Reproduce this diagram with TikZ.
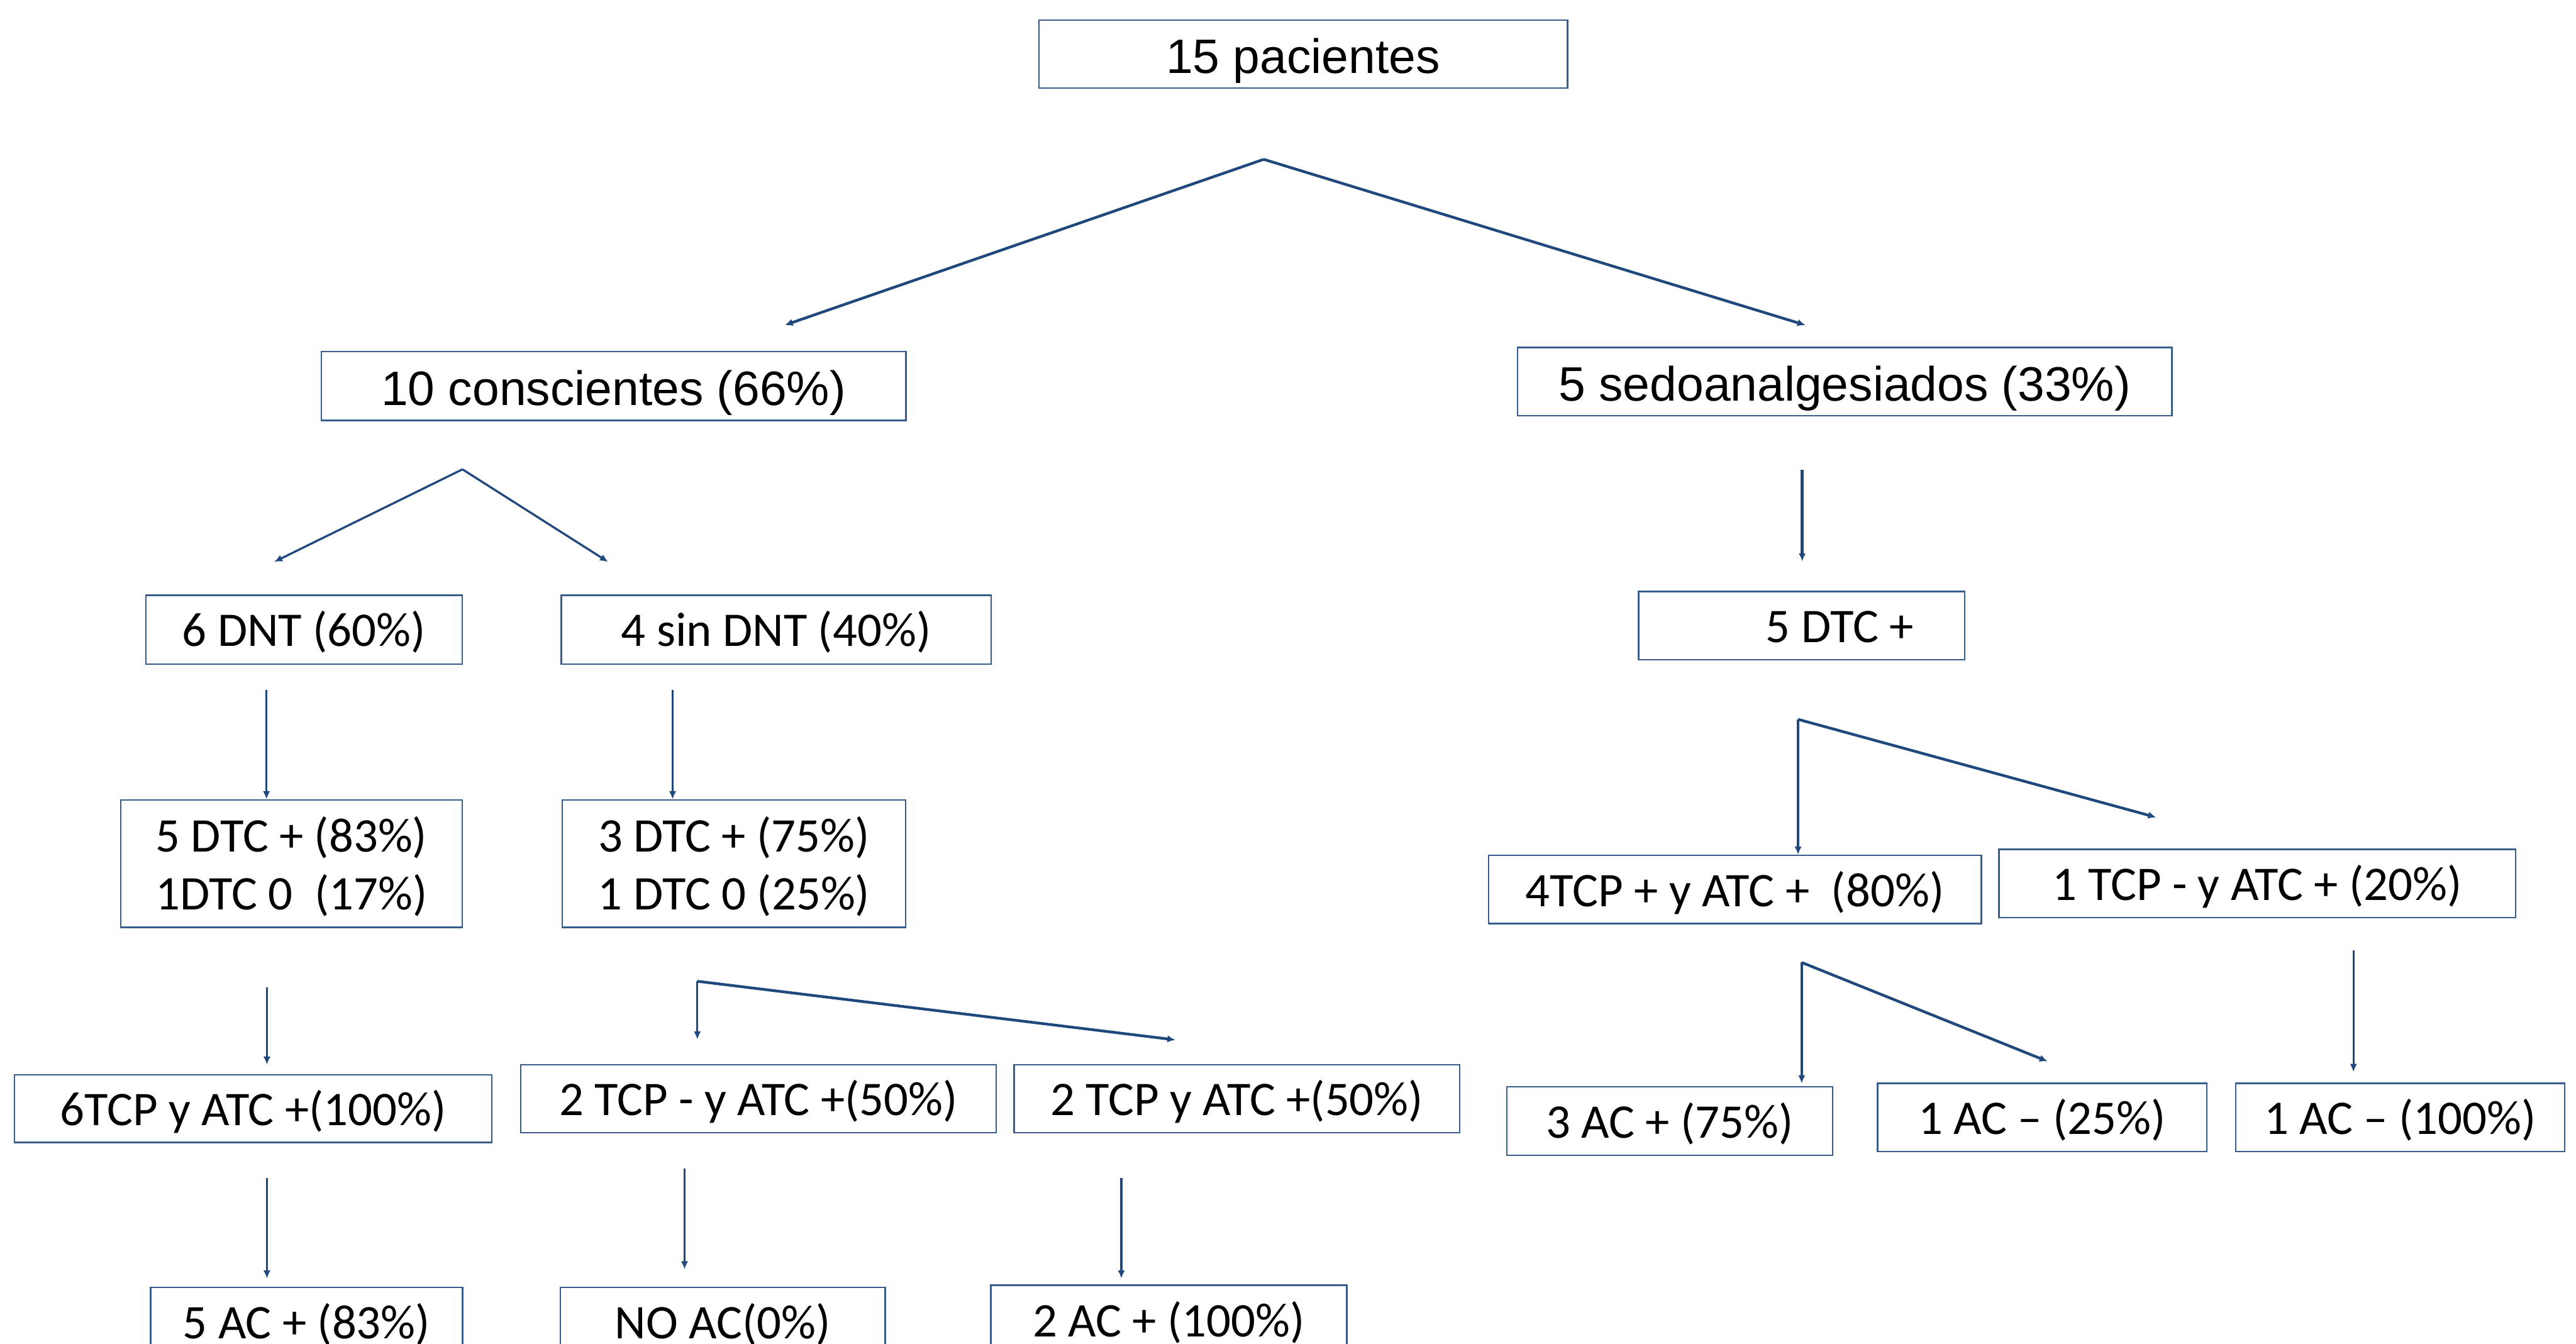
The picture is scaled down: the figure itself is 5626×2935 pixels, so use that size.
\documentclass[tikz,border=0pt]{standalone}
\usepackage{fontspec}
\setmainfont{Carlito}
\newfontfamily\arialfont{Liberation Sans}
\usetikzlibrary{arrows.meta}
\definecolor{boxblue}{RGB}{56,93,138}
\definecolor{arrowblue}{RGB}{31,73,125}
\begin{document}
\begin{tikzpicture}[x=0.01cm,y=-0.01cm,
  box/.style={draw=boxblue,line width=0.9pt,fill=white,inner sep=0pt,text depth=0pt},
  cal/.style={box,font=\fontsize{30}{36}\selectfont,text height=21pt},
  ari/.style={box,font=\arialfont\fontsize{30}{36}\selectfont,text height=23.9pt},
  arr/.style={draw=arrowblue,line width=1.3pt,-{Latex[length=5pt,width=4.5pt]}},
  arrthick/.style={arr,line width=1.7pt}
]
\useasboundingbox (0,0) rectangle (5626,2935);
\clip (0,0) rectangle (5626,2935);
\fill[white] (0,0) rectangle (5626,2935);

% boxes
\node[ari,minimum width=11.54cm,minimum height=1.48cm] (pac) at (2846,118) {15 pacientes};
\node[ari,minimum width=12.76cm,minimum height=1.50cm] (cons) at (1340,843) {10 conscientes (66\%)};
\node[ari,minimum width=14.28cm,minimum height=1.49cm] (sedo) at (4029,833.5) {5 sedoanalgesiados (33\%)};
\node[cal,minimum width=6.90cm,minimum height=1.50cm] (dnt) at (664,1375) {6 DNT (60\%)};
\node[cal,minimum width=9.38cm,minimum height=1.50cm] (sindnt) at (1695,1375) {4 sin DNT (40\%)};
\node[cal,minimum width=7.12cm,minimum height=1.49cm] (dtcc) at (3935,1366.5) {\hspace*{1.66cm}5 DTC +};
\node[cal,text height=57.5pt,minimum width=7.45cm,minimum height=2.78cm] (dtca) at (636.5,1886)
  {\begin{tabular}[b]{@{}c@{}}5 DTC + (83\%)\\1DTC 0\ \ (17\%)\end{tabular}};
\node[cal,text height=57.5pt,minimum width=7.50cm,minimum height=2.78cm] (dtcb) at (1603,1886)
  {\begin{tabular}[b]{@{}c@{}}3 DTC + (75\%)\\1 DTC 0 (25\%)\end{tabular}};
\node[cal,minimum width=10.42cm,minimum height=1.48cm] (tcpsix) at (553,2421) {6TCP y ATC +(100\%)};
\node[cal,minimum width=10.37cm,minimum height=1.49cm] (tcptwom) at (1656.5,2399.5) {2 TCP - y ATC +(50\%)};
\node[cal,minimum width=9.73cm,minimum height=1.49cm] (tcptwo) at (2701.5,2399.5) {2 TCP y ATC +(50\%)};
\node[cal,minimum width=10.76cm,minimum height=1.49cm] (tcpfour) at (3789,1942.5) {4TCP + y ATC +\ \ (80\%)};
\node[cal,minimum width=11.28cm,minimum height=1.49cm] (tcpone) at (4930,1929.5) {1 TCP - y ATC + (20\%)};
\node[cal,minimum width=7.11cm,minimum height=1.50cm] (acthree) at (3646.5,2448) {3 AC + (75\%)};
\node[cal,minimum width=7.18cm,minimum height=1.49cm] (aconea) at (4460,2440.5) {1 AC – (25\%)};
\node[cal,minimum width=7.18cm,minimum height=1.49cm] (aconeb) at (5242,2440.5) {1 AC – (100\%)};
\node[cal,minimum width=6.81cm,minimum height=1.50cm] (acfive) at (669.5,2887) {5 AC + (83\%)};
\node[cal,minimum width=7.09cm,minimum height=1.50cm] (acno) at (1578.5,2887) {NO AC(0\%)};
\node[cal,minimum width=7.77cm,minimum height=1.50cm] (actwo) at (2552.5,2882) {2 AC + (100\%)};

% connector points
\coordinate (ta) at (2760,348);
\coordinate (tl) at (1714,710);
\coordinate (tr) at (3943,710);
\coordinate (ca) at (1010,1025);
\coordinate (cl) at (599,1227);
\coordinate (cr) at (1328,1227);
\coordinate (dnts) at (582,1507);
\coordinate (sindnts) at (1469,1507);
\coordinate (sedos) at (3936,1026);
\coordinate (sedoe) at (3936,1226);
\coordinate (dtcas) at (583,2156);
\coordinate (dtcae) at (583,2325);
\coordinate (ba) at (1523,2143);
\coordinate (bd) at (1523,2270);
\coordinate (br) at (2567,2271);
\coordinate (da) at (3927,1571);
\coordinate (dr) at (4709,1785);
\coordinate (sixs) at (583,2572);
\coordinate (sixe) at (583,2792);
\coordinate (twoms) at (1495,2552);
\coordinate (twome) at (1495,2772);
\coordinate (twos) at (2449,2572);
\coordinate (twoe) at (2449,2792);
\coordinate (fa) at (3935,2102);
\coordinate (fd) at (3935,2366);
\coordinate (fr) at (4472,2318);
\coordinate (ones) at (5140,2075);
\coordinate (onee) at (5140,2341);

% connectors
\draw[arrthick] (ta) -- (tl);
\draw[arrthick] (ta) -- (tr);
\draw[arr] (ca) -- (cl);
\draw[arr] (ca) -- (cr);
\draw[arr] (dnts) -- (dnts |- dtca.north);
\draw[arr] (sindnts) -- (sindnts |- dtcb.north);
\draw[arrthick] (sedos) -- (sedoe);
\draw[arr] (dtcas) -- (dtcae);
\draw[arr] (ba) -- (bd);
\draw[arrthick] (ba) -- (br);
\draw[arr] (da) -- (da |- tcpfour.north);
\draw[arrthick] (da) -- (dr);
\draw[arr] (sixs) -- (sixe);
\draw[arr] (twoms) -- (twome);
\draw[arr] (twos) -- (twoe);
\draw[arr] (fa) -- (fd);
\draw[arrthick] (fa) -- (fr);
\draw[arr] (ones) -- (onee);
\end{tikzpicture}
\end{document}
